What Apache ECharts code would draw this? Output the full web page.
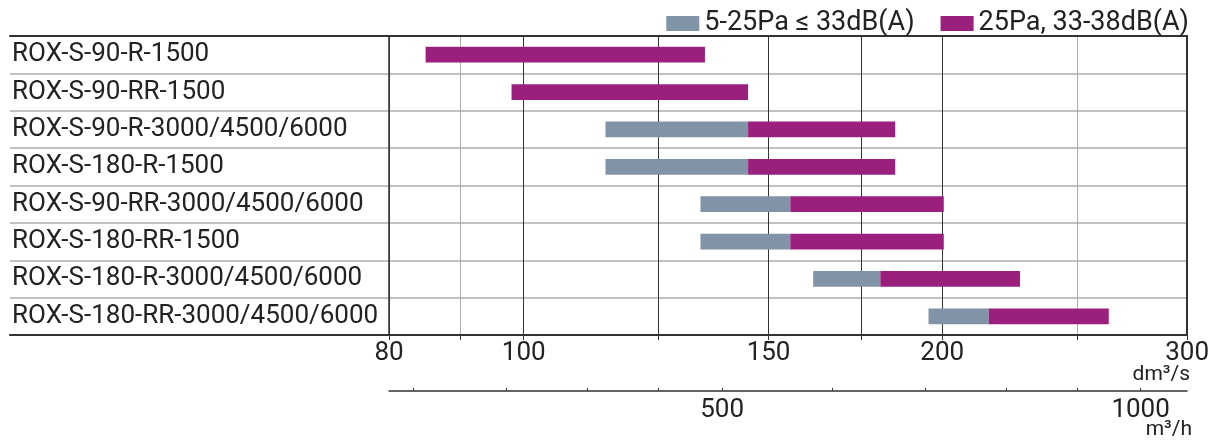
<!DOCTYPE html>
<html><head><meta charset="utf-8">
<script src="https://cdn.jsdelivr.net/npm/echarts@6/dist/echarts.min.js"></script>
<style>html,body{margin:0;padding:0;background:#fff}#c{width:1212px;height:444px}</style>
</head><body><div id="c"></div>
<script>
var categories = ['ROX-S-90-R-1500','ROX-S-90-RR-1500','ROX-S-90-R-3000/4500/6000','ROX-S-180-R-1500','ROX-S-90-RR-3000/4500/6000','ROX-S-180-RR-1500','ROX-S-180-R-3000/4500/6000','ROX-S-180-RR-3000/4500/6000'];
var greyStart   = [null, null, 114.5, 114.5, 134, 134, 161.5, 195.5];
var greyEnd     = [null, null, 145, 145, 155.5, 155.5, 180.5, 216];
var purpleStart = [85, 98, 145, 145, 155.5, 155.5, 180.5, 216];
var purpleEnd   = [135, 145, 185, 185, 200.5, 200.5, 227.5, 263.5];
var dmTicks  = [80, 90, 100, 125, 150, 175, 200, 250, 300];
var dmLabels = [80, 100, 150, 200, 300];
var mhTicks  = [300, 350, 400, 450, 500, 600, 700, 800, 900, 1000];
var mhLabels = [500, 1000];
var seriesNames = ['5-25Pa \u2264 33dB(A)', '25Pa, 33-38dB(A)'];

var GREY = '#8194a7', PURPLE = '#9b1f7c', DARK = '#333', LINE = '#adadad', TXT = '#222';
var FONT = 'Roboto';

function build(starts, ends) {
  var out = [];
  for (var i = 0; i < categories.length; i++) {
    if (starts[i] != null) out.push([starts[i], ends[i], i]);
  }
  return out;
}
function renderBar(params, api) {
  var y = api.value(2);
  var s = api.coord([api.value(0), y]);
  var e = api.coord([api.value(1), y]);
  var h = api.size([0, 1])[1] * 0.42;
  return { type: 'rect', shape: { x: s[0], y: s[1] - h / 2, width: e[0] - s[0], height: h }, style: api.style() };
}
function plain(v) { return String(v); }

var chart = echarts.init(document.getElementById('c'), null, { renderer: 'canvas' });
chart.setOption({
  animation: false,
  textStyle: { fontFamily: FONT, color: TXT },
  legend: {
    right: 18, top: 5, itemWidth: 33, itemHeight: 15, itemGap: 26, icon: 'rect',
    textStyle: { fontFamily: FONT, fontSize: 27, color: TXT },
    data: seriesNames
  },
  grid: [
    { left: 389, right: 24, top: 36, bottom: 109 },
    { left: 10, width: 379, top: 36, bottom: 109 }
  ],
  xAxis: [
    { gridIndex: 0, type: 'log', min: 80, max: 300, position: 'bottom',
      axisLine: { show: true, lineStyle: { color: DARK, width: 2 } },
      axisTick: { show: true, customValues: dmTicks, length: 5, lineStyle: { color: DARK } },
      axisLabel: { show: true, customValues: dmLabels, formatter: plain, fontSize: 26, color: TXT, margin: 5, fontFamily: FONT },
      splitLine: { show: true, lineStyle: { color: [DARK, LINE, DARK, DARK, DARK, DARK, DARK, LINE, DARK], width: 1 } },
      minorTick: { show: false }, minorSplitLine: { show: false } },
    { gridIndex: 0, type: 'log', min: 288, max: 1080, position: 'bottom', offset: 56,
      axisLine: { show: true, lineStyle: { color: DARK, width: 1.5 } },
      axisTick: { show: true, customValues: mhTicks, length: 3, inside: true, lineStyle: { color: DARK } },
      axisLabel: { show: true, customValues: mhLabels, formatter: plain, fontSize: 26, color: TXT, margin: 6, fontFamily: FONT },
      splitLine: { show: false } },
    { gridIndex: 0, type: 'value', min: 0, max: 1, position: 'top',
      axisLine: { show: true, lineStyle: { color: DARK, width: 2 } },
      axisTick: { show: false }, axisLabel: { show: false }, splitLine: { show: false } },
    { gridIndex: 1, type: 'value', min: 0, max: 1, position: 'top',
      axisLine: { show: true, lineStyle: { color: DARK, width: 2 } },
      axisTick: { show: false }, axisLabel: { show: false }, splitLine: { show: false } },
    { gridIndex: 1, type: 'value', min: 0, max: 1, position: 'bottom',
      axisLine: { show: true, lineStyle: { color: DARK, width: 2 } },
      axisTick: { show: false }, axisLabel: { show: false }, splitLine: { show: false } }
  ],
  yAxis: [
    { gridIndex: 0, type: 'category', data: categories, inverse: true, position: 'left',
      axisLine: { show: true, lineStyle: { color: DARK, width: 1.5 } },
      axisTick: { show: false }, axisLabel: { show: false },
      splitLine: { show: true, lineStyle: { color: LINE, width: 1.5 } } },
    { gridIndex: 0, type: 'category', data: categories, inverse: true, position: 'right',
      axisLine: { show: true, lineStyle: { color: DARK, width: 2 } },
      axisTick: { show: false }, axisLabel: { show: false }, splitLine: { show: false } },
    { gridIndex: 1, type: 'category', data: categories, inverse: true, position: 'left',
      axisLine: { show: false }, axisTick: { show: false },
      axisLabel: { show: true, inside: true, margin: 2, fontSize: 26, color: TXT, fontFamily: FONT },
      splitLine: { show: true, lineStyle: { color: LINE, width: 1.5 } } }
  ],
  graphic: [
    { type: 'text', right: 22, top: 364, style: { text: 'dm\u00b3/s', fontSize: 21, fill: TXT, fontFamily: FONT } },
    { type: 'text', right: 20, top: 419, style: { text: 'm\u00b3/h', fontSize: 21, fill: TXT, fontFamily: FONT } }
  ],
  series: [
    { name: seriesNames[0], type: 'custom', xAxisIndex: 0, yAxisIndex: 0, renderItem: renderBar,
      itemStyle: { color: GREY }, encode: { x: [0, 1], y: 2 }, data: build(greyStart, greyEnd), z: 5 },
    { name: seriesNames[1], type: 'custom', xAxisIndex: 0, yAxisIndex: 0, renderItem: renderBar,
      itemStyle: { color: PURPLE }, encode: { x: [0, 1], y: 2 }, data: build(purpleStart, purpleEnd), z: 5 }
  ]
});
</script></body></html>
